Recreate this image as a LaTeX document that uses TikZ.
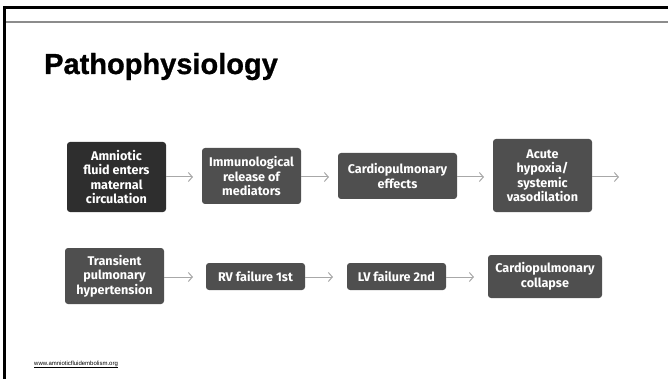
\documentclass[tikz,border=0pt]{standalone}
\usepackage{fontspec}
\setmainfont{Liberation Sans}
\newfontfamily\titlefont{Liberation Sans}[BoldFeatures={FakeBold=1}]
\newfontfamily\boxfont{Fira Sans}
\usetikzlibrary{arrows.meta}
\definecolor{boxdark}{HTML}{2E2E2E}
\definecolor{boxgrey}{HTML}{4F4F4F}
\definecolor{arrowgrey}{HTML}{A8A8A8}
\tikzset{
  x=1pt, y=-1pt,
  flowbox/.style={fill=boxgrey, rounded corners=3pt, text=white, align=center,
    font=\boxfont\bfseries\fontsize{12.6}{14.5}\selectfont, inner sep=0pt},
  flowarrow/.style={draw=arrowgrey, line width=1pt,
    -{Straight Barb[length=4pt,width=9pt,line width=1pt]}},
}
\begin{document}
\begin{tikzpicture}
\useasboundingbox (0,0) rectangle (668,379);
% slide frame
\fill[black] (3,6) rectangle (668,9);
\fill[black] (3,6) rectangle (6,379);
\fill[gray!90] (6,21) rectangle (668,23);
% title
\node[anchor=base west, inner sep=0pt, font=\titlefont\bfseries\fontsize{29}{29}\selectfont] (title) at (44,74) {Pathophysiology};

% first row of boxes
\path[flowbox, fill=boxdark] (67,142) rectangle (166,212);
\node[flowbox, fill=boxdark] (b1) at (116.5,177) {Amniotic\\fluid enters\\maternal\\circulation};
\path[flowbox] (202,148) rectangle (301,204);
\node[flowbox] (b2) at (251.5,176) {Immunological\\release of\\mediators};
\path[flowbox] (338,153) rectangle (457,199);
\node[flowbox] (b3) at (397.5,176) {Cardiopulmonary\\effects};
\path[flowbox] (493,139) rectangle (592,212);
\node[flowbox] (b4) at (542.5,175.5) {Acute\\hypoxia/\\systemic\\vasodilation};
\coordinate (e4) at (619,177);

% second row of boxes
\path[flowbox] (65,248) rectangle (164,304);
\node[flowbox] (b5) at (114.5,276) {Transient\\pulmonary\\hypertension};
\path[flowbox] (206,263) rectangle (305,290);
\node[flowbox] (b6) at (255.5,276.5) {RV failure 1st};
\path[flowbox] (347,263) rectangle (446,290);
\node[flowbox] (b7) at (396.5,276.5) {LV failure 2nd};
\path[flowbox] (488,255) rectangle (602,298);
\node[flowbox] (b8) at (545,276.5) {Cardiopulmonary\\collapse};

% connectors between box edges
\coordinate (s1) at (166,177); \coordinate (t1) at (193,177);
\coordinate (s2) at (301,177); \coordinate (t2) at (329,177);
\coordinate (s3) at (457,177); \coordinate (t3) at (484,177);
\coordinate (s4) at (592,177);
\coordinate (s5) at (164,277); \coordinate (t5) at (193,277);
\coordinate (s6) at (305,277); \coordinate (t6) at (333,277);
\coordinate (s7) at (446,277); \coordinate (t7) at (474,277);
\draw[flowarrow] (s1) -- (t1);
\draw[flowarrow] (s2) -- (t2);
\draw[flowarrow] (s3) -- (t3);
\draw[flowarrow] (s4) -- (e4);
\draw[flowarrow] (s5) -- (t5);
\draw[flowarrow] (s6) -- (t6);
\draw[flowarrow] (s7) -- (t7);

% source link
\node[anchor=base west, inner sep=0pt, font=\fontsize{6}{6}\selectfont] (src) at (34,365)
  {\underline{www.amnioticfluidembolism.org}};
\end{tikzpicture}
\end{document}
